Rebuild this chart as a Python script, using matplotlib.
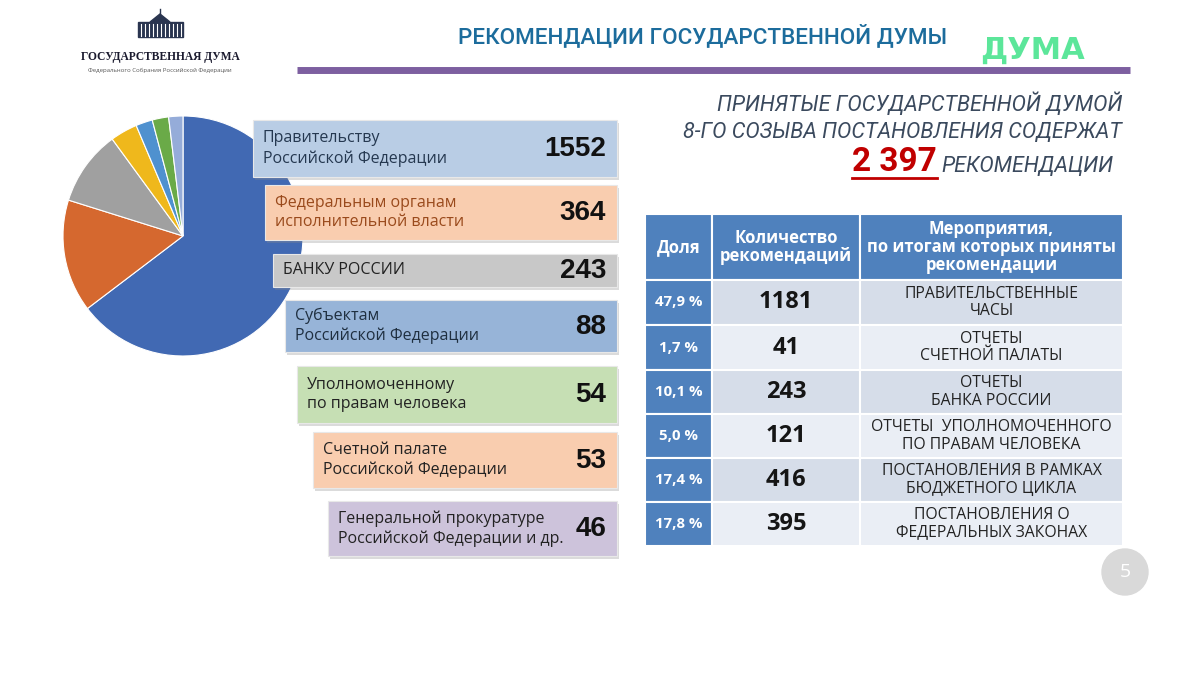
import matplotlib
matplotlib.use("Agg")
import matplotlib.pyplot as plt
from matplotlib import font_manager
from matplotlib.patches import Rectangle, Circle, Polygon

_fonts = font_manager.fontManager.ttflist


def has_bold(name):
    return any(f.name == name and (f.weight == "bold" or
               (isinstance(f.weight, int) and f.weight >= 600)) for f in _fonts)


SANS = next((n for n in ["Noto Sans", "Open Sans", "Roboto", "Liberation Sans"]
             if has_bold(n)), "DejaVu Sans")
_names = {f.name for f in _fonts}
NARROW = 'Liberation Sans Narrow' if 'Liberation Sans Narrow' in _names else 'Roboto'

plt.rcParams['font.family'] = [SANS, 'DejaVu Sans']

# --- data ---
recipients = [
    "Правительству\nРоссийской Федерации",
    "Федеральным органам\nисполнительной власти",
    "БАНКУ РОССИИ",
    "Субъектам\nРоссийской Федерации",
    "Уполномоченному\nпо правам человека",
    "Счетной палате\nРоссийской Федерации",
    "Генеральной прокуратуре\nРоссийской Федерации и др.",
]
rec_counts = [1552, 364, 243, 88, 54, 53, 46]

table_header = ["Доля", "Количество\nрекомендаций",
                "Мероприятия,\nпо итогам которых приняты\nрекомендации"]
shares = ["47,9 %", "1,7 %", "10,1 %", "5,0 %", "17,4 %", "17,8 %"]
event_counts = [1181, 41, 243, 121, 416, 395]
events = [
    "ПРАВИТЕЛЬСТВЕННЫЕ\nЧАСЫ",
    "ОТЧЕТЫ\nСЧЕТНОЙ ПАЛАТЫ",
    "ОТЧЕТЫ\nБАНКА РОССИИ",
    "ОТЧЕТЫ  УПОЛНОМОЧЕННОГО\nПО ПРАВАМ ЧЕЛОВЕКА",
    "ПОСТАНОВЛЕНИЯ В РАМКАХ\nБЮДЖЕТНОГО ЦИКЛА",
    "ПОСТАНОВЛЕНИЯ О\nФЕДЕРАЛЬНЫХ ЗАКОНАХ",
]
total_recs = "2 397"

# --- styles ---
W, H = 1200, 675
pie_colors = ["#4169b3", "#d5682f", "#a0a0a0", "#efb81c", "#4f91cf", "#6aaa48", "#95acd9"]
box_geom = [(253, 120, 617, 177), (265, 185, 617, 240), (273, 254, 617, 287),
            (285, 300, 617, 352), (297, 366, 617, 423), (313, 432, 617, 488),
            (328, 501, 617, 556)]
box_colors = ["#b9cde5", "#f9cdaf", "#c8c8c8", "#97b4d8", "#c6dfb4", "#f9cdaf", "#cdc3db"]
box_text_colors = ["#253850", "#9a4a1c", "#222222", "#1f2f40", "#222222", "#222222", "#222222"]

fig = plt.figure(figsize=(12, 6.75), dpi=100)
fig.patch.set_facecolor("white")

# pie chart (behind the boxes)
cx, cy, r = 183, 236, 120
ax_pie = fig.add_axes([(cx - r) / W, (H - cy - r) / H, 2 * r / W, 2 * r / H])
ax_pie.pie(rec_counts, colors=pie_colors, startangle=90, counterclock=False,
           wedgeprops=dict(edgecolor="white", linewidth=0.8))
ax_pie.set_xlim(-1, 1)
ax_pie.set_ylim(-1, 1)
ax_pie.axis("off")
ax_pie.set_zorder(0)

# overlay in pixel coordinates
ax = fig.add_axes([0, 0, 1, 1])
ax.set_xlim(0, W)
ax.set_ylim(H, 0)
ax.axis("off")
ax.set_zorder(2)
ax.patch.set_alpha(0)

# header / logo
ax.add_patch(Rectangle((138, 22), 45, 15, color="#2a3550"))
for xx in range(141, 182, 4):
    ax.plot([xx, xx], [24, 36], color="white", lw=0.8)
ax.add_patch(Polygon([(150, 22), (160, 14), (170, 22)], color="#2a3550"))
ax.plot([160, 160], [9, 15], color="#2a3550", lw=1)
ax.text(160, 57, "ГОСУДАРСТВЕННАЯ ДУМА", family="Liberation Serif", weight="bold",
        fontsize=8.3, color="#1a1a2e", ha="center", va="center")
ax.text(160, 70, "Федерального Собрания Российской Федерации", fontsize=4.3,
        color="#555555", ha="center", va="center")

ax.text(458, 36, "РЕКОМЕНДАЦИИ ГОСУДАРСТВЕННОЙ ДУМЫ", family=NARROW, fontsize=16.2,
        weight="medium", color="#1c6c9c", ha="left", va="center")
ax.text(1032, 50, "ДУМА", family="DejaVu Sans", weight="bold", fontsize=22,
        color="#5ce69a", ha="center", va="center")
ax.plot([297, 1130], [70, 70], color="#7d5fa0", lw=5, solid_capstyle="butt")

# summary text
ax.text(1122, 104, "ПРИНЯТЫЕ ГОСУДАРСТВЕННОЙ ДУМОЙ", family=NARROW, style="italic",
        fontsize=15.5, color="#3b4a5e", ha="right", va="center")
ax.text(1122, 133, "8-ГО СОЗЫВА ПОСТАНОВЛЕНИЯ СОДЕРЖАТ", family=NARROW, style="italic",
        fontsize=15.5, color="#3b4a5e", ha="right", va="center")
t_total = ax.text(937, 162, total_recs, family=NARROW, weight="bold", fontsize=24,
                  color="#c00000", ha="right", va="center")
ax.text(941, 166, "РЕКОМЕНДАЦИИ", family=NARROW, style="italic", fontsize=15.5,
        color="#3b4a5e", ha="left", va="center")
fig.canvas.draw()
bb = t_total.get_window_extent().transformed(ax.transData.inverted())
ax.plot([bb.x0, bb.x1], [178, 178], color="#c00000", lw=2)

# recipient boxes
for (x0, y0, x1, y1), lab, n, fc, tc in zip(box_geom, recipients, rec_counts,
                                            box_colors, box_text_colors):
    ax.add_patch(Rectangle((x0 + 2, y0 + 3), x1 - x0, y1 - y0, color="#888888",
                           alpha=0.3, lw=0))
    ax.add_patch(Rectangle((x0, y0), x1 - x0, y1 - y0, facecolor=fc,
                           edgecolor="#e8e8e8", lw=0.8))
    ym = (y0 + y1) / 2
    ax.text(x0 + 10, ym, lab, fontsize=11.5, color=tc, ha="left", va="center",
            linespacing=1.3)
    ax.text(x1 - 11, ym + 1, str(n), family="Liberation Sans", weight="bold",
            fontsize=20, color="#111111", ha="right", va="center")

# table
xs = [645, 712, 860, 1123]
ys = [214, 280, 325, 370, 414, 458, 502, 546]
head_blue = "#4f81bd"
for j in range(3):
    ax.add_patch(Rectangle((xs[j], ys[0]), xs[j + 1] - xs[j], ys[1] - ys[0],
                           facecolor=head_blue, edgecolor="white", lw=1.5))
    ax.text((xs[j] + xs[j + 1]) / 2, (ys[0] + ys[1]) / 2, table_header[j],
            fontsize=12, weight="bold", color="white",
            ha="center", va="center", linespacing=1.0)
for i in range(len(shares)):
    y0, y1 = ys[i + 1], ys[i + 2]
    ym = (y0 + y1) / 2
    band = "#d6dde9" if i % 2 == 0 else "#eaeef5"
    ax.add_patch(Rectangle((xs[0], y0), xs[1] - xs[0], y1 - y0,
                           facecolor=head_blue, edgecolor="white", lw=1.5))
    for j in (1, 2):
        ax.add_patch(Rectangle((xs[j], y0), xs[j + 1] - xs[j], y1 - y0,
                               facecolor=band, edgecolor="white", lw=1.5))
    ax.text((xs[0] + xs[1]) / 2, ym, shares[i], fontsize=10.8, weight="bold",
            color="white", ha="center", va="center")
    ax.text((xs[1] + xs[2]) / 2, ym, str(event_counts[i]), fontsize=17,
            weight="bold", color="#151515", ha="center", va="center")
    ax.text((xs[2] + xs[3]) / 2, ym, events[i], fontsize=11.3, color="#222222",
            ha="center", va="center", linespacing=1.1)

# page number
ax.add_patch(Circle((1125, 572), 23, color="#d9d9d9"))
ax.text(1125, 572, "5", fontsize=14, color="white", ha="center", va="center")

fig.savefig("out.png", dpi=100, facecolor="white")
